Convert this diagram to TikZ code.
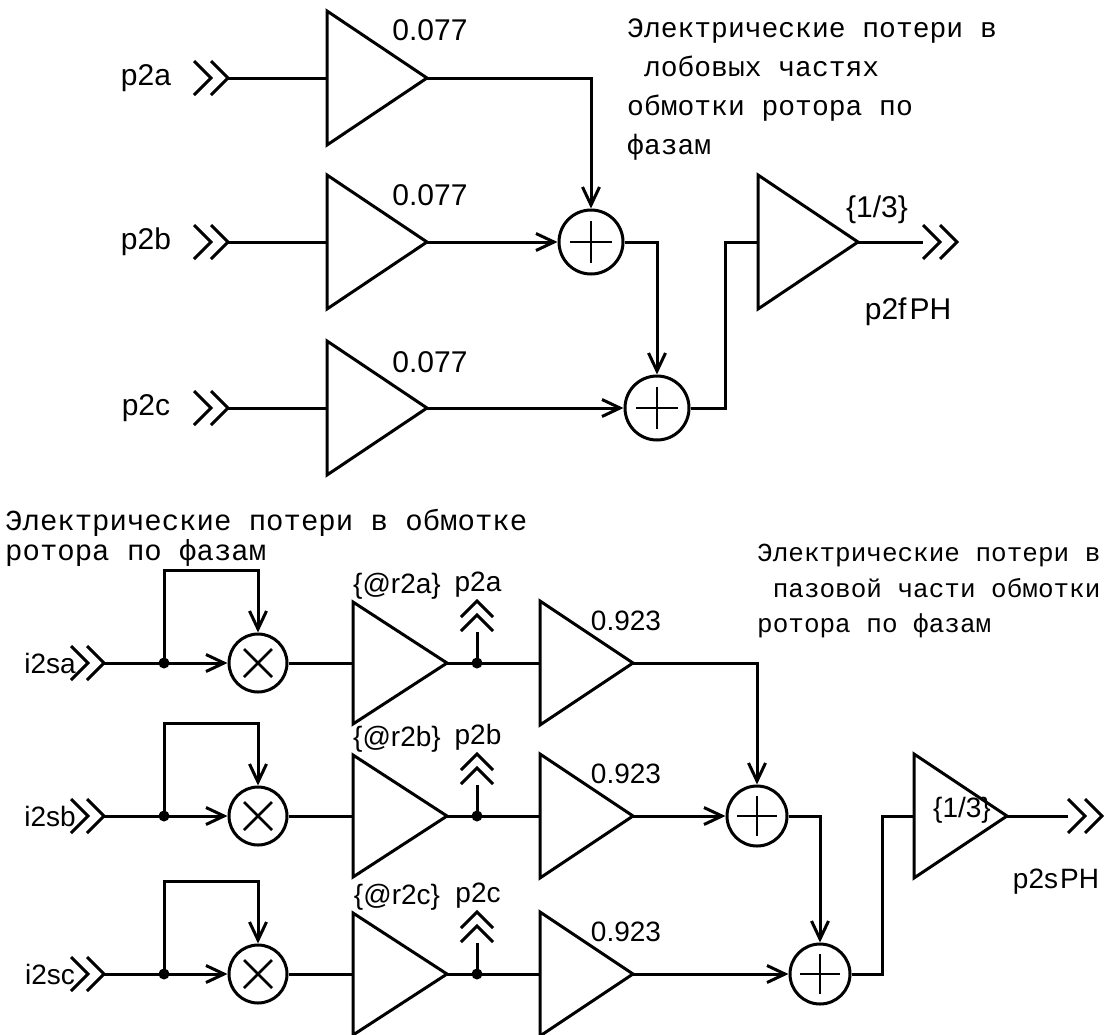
\documentclass[tikz,border=0pt]{standalone}
\usepackage{fontspec}
\setmainfont{Liberation Sans}
\newfontfamily\monofnt{Liberation Mono}
\usetikzlibrary{arrows.meta}
\newcommand\gainblk[5]{%
  \draw[wire] (#2,#3-#5) -- (#2+#4,#3) -- (#2,#3+#5) -- cycle;
  \coordinate (#1-in) at (#2,#3);
  \coordinate (#1-out) at (#2+#4,#3);}
\newcommand\chevr[2]{\draw[wire] (#1-17,#2-17) -- (#1,#2) -- (#1-17,#2+17);}
\newcommand\chevu[2]{\draw[wire] (#1-16,#2+16) -- (#1,#2) -- (#1+16,#2+16);}
\begin{document}
\begin{tikzpicture}[x=1pt,y=-1pt,
  wire/.style={line width=3pt, line join=miter},
  arr/.style={wire,-{Straight Barb[length=18pt,width=17pt]}},
  lbl/.style={font=\fontsize{30}{34}\selectfont, inner sep=0pt},
  lbs/.style={font=\fontsize{28}{32}\selectfont, inner sep=0pt},
  mono/.style={font=\monofnt\fontsize{28}{32}\selectfont, inner sep=0pt, anchor=base west},
  monobl/.style={font=\monofnt\fontsize{29}{32}\selectfont, inner sep=0pt, anchor=base west},
  monobr/.style={font=\monofnt\fontsize{26}{30}\selectfont, inner sep=0pt, anchor=base west},
  sumnode/.style={circle, draw, line width=3pt, minimum size=#1, inner sep=0pt,
    path picture={\draw[line width=2.7pt] ([xshift=-0.33*#1]path picture bounding box.center) -- ([xshift=0.33*#1]path picture bounding box.center);
                  \draw[line width=2.7pt] ([yshift=-0.33*#1]path picture bounding box.center) -- ([yshift=0.33*#1]path picture bounding box.center);}},
  mulnode/.style={circle, draw, line width=3pt, minimum size=58pt, inner sep=0pt,
    path picture={\draw[line width=2.7pt] ([shift={(-14pt,-14pt)}]path picture bounding box.center) -- ([shift={(14pt,14pt)}]path picture bounding box.center);
                  \draw[line width=2.7pt] ([shift={(-14pt,14pt)}]path picture bounding box.center) -- ([shift={(14pt,-14pt)}]path picture bounding box.center);}},
  dot/.style={circle, fill, minimum size=11pt, inner sep=0pt}]
\useasboundingbox (0,0) rectangle (1107,1034);

% ---------- top section ----------
\gainblk{g1}{327}{78}{100}{67}
\gainblk{g2}{327}{242}{100}{67}
\gainblk{g3}{327}{408}{100}{67}
\gainblk{g4}{758}{242}{100}{67}
\node[lbl] (k1) at (430,30) {0.077};
\node[lbl] (k2) at (430,195) {0.077};
\node[lbl] (k3) at (430,362) {0.077};
\node[lbl] (k4) at (877,210) {\{1/3\}};

\node[lbl] (n1) at (146,78) {p2a};
\node[lbl] (n2) at (146,242) {p2b};
\node[lbl] (n3) at (146,408) {p2c};
\chevr{211}{78}\chevr{228}{78}
\chevr{211}{242}\chevr{228}{242}
\chevr{211}{408}\chevr{228}{408}
\coordinate (in1) at (228,78);
\coordinate (in2) at (228,242);
\coordinate (in3) at (228,408);
\draw[wire] (in1) -- (g1-in);
\draw[wire] (in2) -- (g2-in);
\draw[wire] (in3) -- (g3-in);

\node[sumnode=64pt] (s1) at (591,242) {};
\node[sumnode=64pt] (s2) at (657,408) {};
\draw[arr] (g1-out) -| (s1.north);
\draw[arr] (g2-out) -- (s1.west);
\draw[arr] (s1.east) -| (s2.north);
\draw[arr] (g3-out) -- (s2.west);
\coordinate (j1) at (725,408);
\coordinate (j2) at (725,242);
\draw[wire] (s2.east) -- (j1) -- (j2) -- (g4-in);

\coordinate (o1) at (923,242);
\draw[wire] (g4-out) -- (o1);
\chevr{940}{242}\chevr{957}{242}
\node[lbl] (n4) at (908,312) {p2f\kern3pt PH};

\node[mono] (ta1) at (627,37) {Электрические потери в};
\node[mono] (ta2) at (627,76) {\hphantom{л}лобовых частях};
\node[mono] (ta3) at (627,115) {обмотки ротора по};
\node[mono] (ta4) at (627,154) {фазам};

% ---------- bottom section ----------
\node[monobl] (tb1) at (5,530) {Электрические потери в обмотке};
\node[monobl] (tb2) at (5,560) {ротора по фазам};
\node[monobr] (tc1) at (757,561) {Электрические потери в};
\node[monobr] (tc2) at (757,597) {\hphantom{п}пазовой части обмотки};
\node[monobr] (tc3) at (757,632) {ротора по фазам};

\foreach \r/\y in {a/663,b/816,c/974}{
  \node[lbs] (i\r) at (50,\y) {i2s\r};
  \chevr{88}{\y}\chevr{104}{\y}
  \coordinate (ic\r) at (104,\y);
  \node[dot] (d\r) at (164,\y) {};
  \node[mulnode] (m\r) at (258,\y) {};
  \coordinate (la\r) at (164,\y-93);
  \coordinate (lb\r) at (258,\y-93);
  \draw[wire] (ic\r) -- (d\r.center);
  \draw[arr] (d\r.center) -- (m\r.west);
  \draw[arr] (d\r.center) -- (la\r) -- (lb\r) -- (m\r.north);
  \gainblk{r\r}{353}{\y}{94}{61}
  \draw[wire] (m\r.east) -- (r\r-in);
  \node[dot] (t\r) at (477,\y) {};
  \gainblk{q\r}{540}{\y}{93}{62}
  \draw[wire] (r\r-out) -- (t\r.center) -- (q\r-in);
  \coordinate (u\r) at (477,\y-31);
  \draw[wire] (t\r.center) -- (u\r);
  \chevu{477}{\y-48}\chevu{477}{\y-62}
  \node[lbs, anchor=base] (rl\r) at (397,\y-70) {\{@r2\r\}};
  \node[lbs, anchor=base] (pl\r) at (478,\y-72) {p2\r};
  \node[lbs] (ql\r) at (626,\y-42) {0.923};
}

\node[sumnode=60pt] (sa) at (757,816) {};
\node[sumnode=60pt] (sb) at (820,974) {};
\draw[arr] (qa-out) -| (sa.north);
\draw[arr] (qb-out) -- (sa.west);
\draw[arr] (sa.east) -| (sb.north);
\draw[arr] (qc-out) -- (sb.west);
\gainblk{gf}{914}{816}{93}{62}
\coordinate (j3) at (882,974);
\coordinate (j4) at (882,816);
\draw[wire] (sb.east) -- (j3) -- (j4) -- (gf-in);
\node[lbs] (k5) at (962,810) {\{1/3\}};
\coordinate (o2) at (1068,816);
\draw[wire] (gf-out) -- (o2);
\chevr{1085}{816}\chevr{1102}{816}
\node[lbs] (n5) at (1056,882) {p2s\kern2pt PH};
\end{tikzpicture}
\end{document}
